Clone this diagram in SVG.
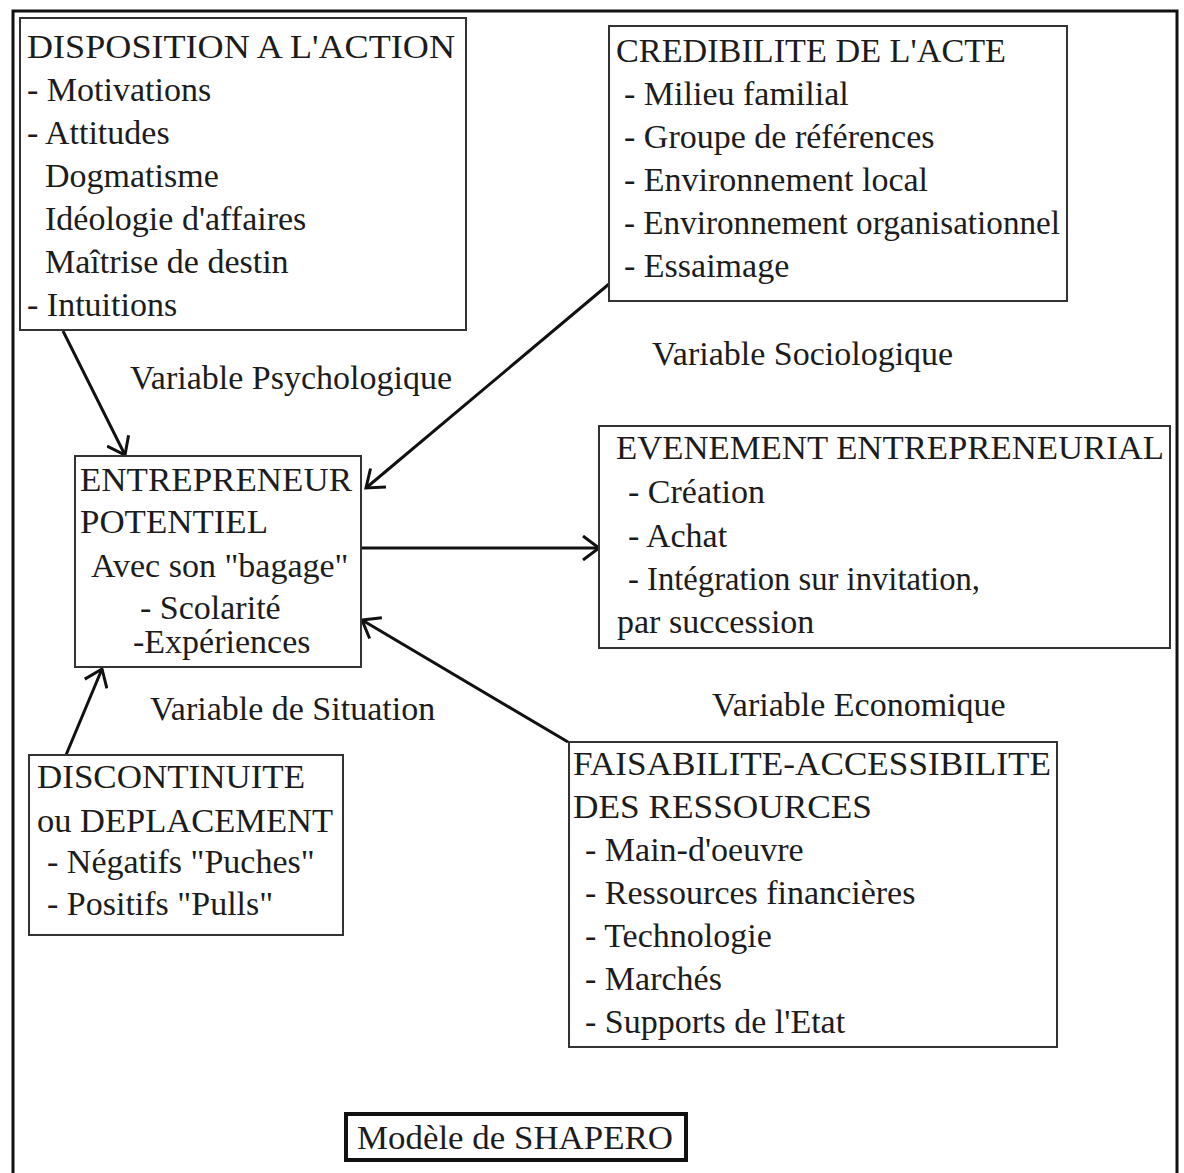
<svg xmlns="http://www.w3.org/2000/svg" width="1184" height="1173" viewBox="0 0 1184 1173">
<style>
  text { font-family: "Liberation Serif", "Times New Roman", serif; font-size: 34px; fill: #1c1c1c; }
  .box { fill: #fff; stroke: #333; stroke-width: 2; }
  .conn { stroke: #111; stroke-width: 3; fill: none; marker-end: url(#arrow); }
</style>
<defs>
  <marker id="arrow" markerUnits="userSpaceOnUse" markerWidth="24" markerHeight="26" viewBox="0 0 24 26" refX="21" refY="13" orient="auto">
    <path d="M5,1 L21,13 L5,25" fill="none" stroke="#111" stroke-width="3"/>
  </marker>
</defs>
<rect x="0" y="0" width="1184" height="1173" fill="#fff"/>
<rect id="frame" x="13" y="11" width="1164" height="1175" fill="none" stroke="#111" stroke-width="3"/>

<g id="connectors">
  <line class="conn" x1="63" y1="331" x2="125" y2="455"/>
  <line class="conn" x1="609" y1="284" x2="366" y2="488"/>
  <line class="conn" x1="361" y1="548" x2="599" y2="548"/>
  <line class="conn" x1="568" y1="742" x2="362" y2="620"/>
  <line class="conn" x1="66" y1="755" x2="102" y2="669"/>
</g>

<g id="disposition">
  <rect class="box" x="20" y="18" width="446" height="312"/>
  <text x="27" y="58" textLength="428" lengthAdjust="spacingAndGlyphs">DISPOSITION A L'ACTION</text>
  <text x="27" y="101">- Motivations</text>
  <text x="27" y="144">- Attitudes</text>
  <text x="45" y="187">Dogmatisme</text>
  <text x="45" y="230">Idéologie d'affaires</text>
  <text x="45" y="273">Maîtrise de destin</text>
  <text x="27" y="316">- Intuitions</text>
</g>

<g id="credibilite">
  <rect class="box" x="609" y="26" width="458" height="275"/>
  <text x="616" y="62" textLength="390" lengthAdjust="spacingAndGlyphs">CREDIBILITE DE L'ACTE</text>
  <text x="624" y="105">- Milieu familial</text>
  <text x="624" y="148">- Groupe de références</text>
  <text x="624" y="191">- Environnement local</text>
  <text x="624" y="234" textLength="436" lengthAdjust="spacingAndGlyphs">- Environnement organisationnel</text>
  <text x="624" y="277">- Essaimage</text>
</g>

<g id="entrepreneur">
  <rect class="box" x="75" y="456" width="286" height="211"/>
  <text x="80" y="491" textLength="272" lengthAdjust="spacingAndGlyphs">ENTREPRENEUR</text>
  <text x="80" y="533" textLength="188" lengthAdjust="spacingAndGlyphs">POTENTIEL</text>
  <text x="91" y="577">Avec son "bagage"</text>
  <text x="140" y="619">- Scolarité</text>
  <text x="133" y="653">-Expériences</text>
</g>

<g id="evenement">
  <rect class="box" x="599" y="426" width="571" height="222"/>
  <text x="616" y="459" textLength="548" lengthAdjust="spacingAndGlyphs">EVENEMENT ENTREPRENEURIAL</text>
  <text x="628" y="503">- Création</text>
  <text x="628" y="547">- Achat</text>
  <text x="628" y="590" textLength="352" lengthAdjust="spacingAndGlyphs">- Intégration sur invitation,</text>
  <text x="617" y="633">par succession</text>
</g>

<g id="discontinuite">
  <rect class="box" x="29" y="755" width="314" height="180"/>
  <text x="37" y="788" textLength="268" lengthAdjust="spacingAndGlyphs">DISCONTINUITE</text>
  <text x="37" y="832" textLength="296" lengthAdjust="spacingAndGlyphs">ou DEPLACEMENT</text>
  <text x="47" y="873">- Négatifs "Puches"</text>
  <text x="47" y="915">- Positifs "Pulls"</text>
</g>

<g id="faisabilite">
  <rect class="box" x="569" y="742" width="488" height="305"/>
  <text x="573" y="775" textLength="478" lengthAdjust="spacingAndGlyphs">FAISABILITE-ACCESSIBILITE</text>
  <text x="573" y="818" textLength="299" lengthAdjust="spacingAndGlyphs">DES RESSOURCES</text>
  <text x="585" y="861">- Main-d'oeuvre</text>
  <text x="585" y="904">- Ressources financières</text>
  <text x="585" y="947">- Technologie</text>
  <text x="585" y="990">- Marchés</text>
  <text x="585" y="1033">- Supports de l'Etat</text>
</g>

<g id="labels">
  <text x="130" y="389">Variable Psychologique</text>
  <text x="652" y="365">Variable Sociologique</text>
  <text x="150" y="720">Variable de Situation</text>
  <text x="712" y="716">Variable Economique</text>
</g>

<g id="titre">
  <rect x="346" y="1114" width="340" height="46" fill="#fff" stroke="#111" stroke-width="4"/>
  <text x="357" y="1149" textLength="316" lengthAdjust="spacingAndGlyphs">Modèle de SHAPERO</text>
</g>
</svg>
